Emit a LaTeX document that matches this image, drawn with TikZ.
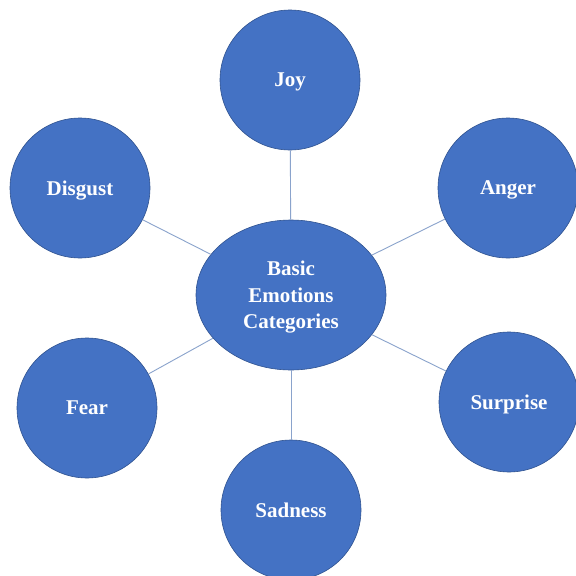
\documentclass[tikz,border=0pt]{standalone}
\usepackage{fontspec}
\setmainfont{Liberation Serif}
\usetikzlibrary{shapes.geometric}
\definecolor{nodefill}{HTML}{4472C4}
\definecolor{nodeedge}{HTML}{2F528F}
\definecolor{linkcol}{HTML}{8AA3CC}
\tikzset{
  emo/.style={circle, fill=nodefill, draw=nodeedge, line width=0.6pt, minimum size=140pt, inner sep=0pt,
    text=white, font=\bfseries\fontsize{21}{26.5}\selectfont, align=center, text depth=0pt},
  hub/.style={ellipse, fill=nodefill, draw=nodeedge, line width=0.6pt, minimum width=190pt, minimum height=150pt, inner sep=0pt,
    text=white, font=\bfseries\fontsize{21}{26.5}\selectfont, align=center, text depth=0pt},
  link/.style={draw=linkcol, line width=0.9pt}
}
\begin{document}
\begin{tikzpicture}[x=1pt,y=-1pt]
\useasboundingbox (0,0) rectangle (576,576);
\fill[white] (0,0) rectangle (576,576);
\node[hub] (c) at (291,295) {Basic\\Emotions\\Categories};
\node[emo] (joy) at (290,80) {Joy};
\node[emo] (anger) at (508,188) {Anger};
\node[emo] (disgust) at (80,188) {Disgust};
\node[emo] (surprise) at (509,402) {Surprise};
\node[emo] (fear) at (87,408) {Fear};
\node[emo] (sadness) at (291,510) {Sadness};
\draw[link] (c) -- (joy);
\draw[link] (c) -- (anger);
\draw[link] (c) -- (disgust);
\draw[link] (c) -- (surprise);
\draw[link] (c) -- (fear);
\draw[link] (c) -- (sadness);
\end{tikzpicture}
\end{document}
